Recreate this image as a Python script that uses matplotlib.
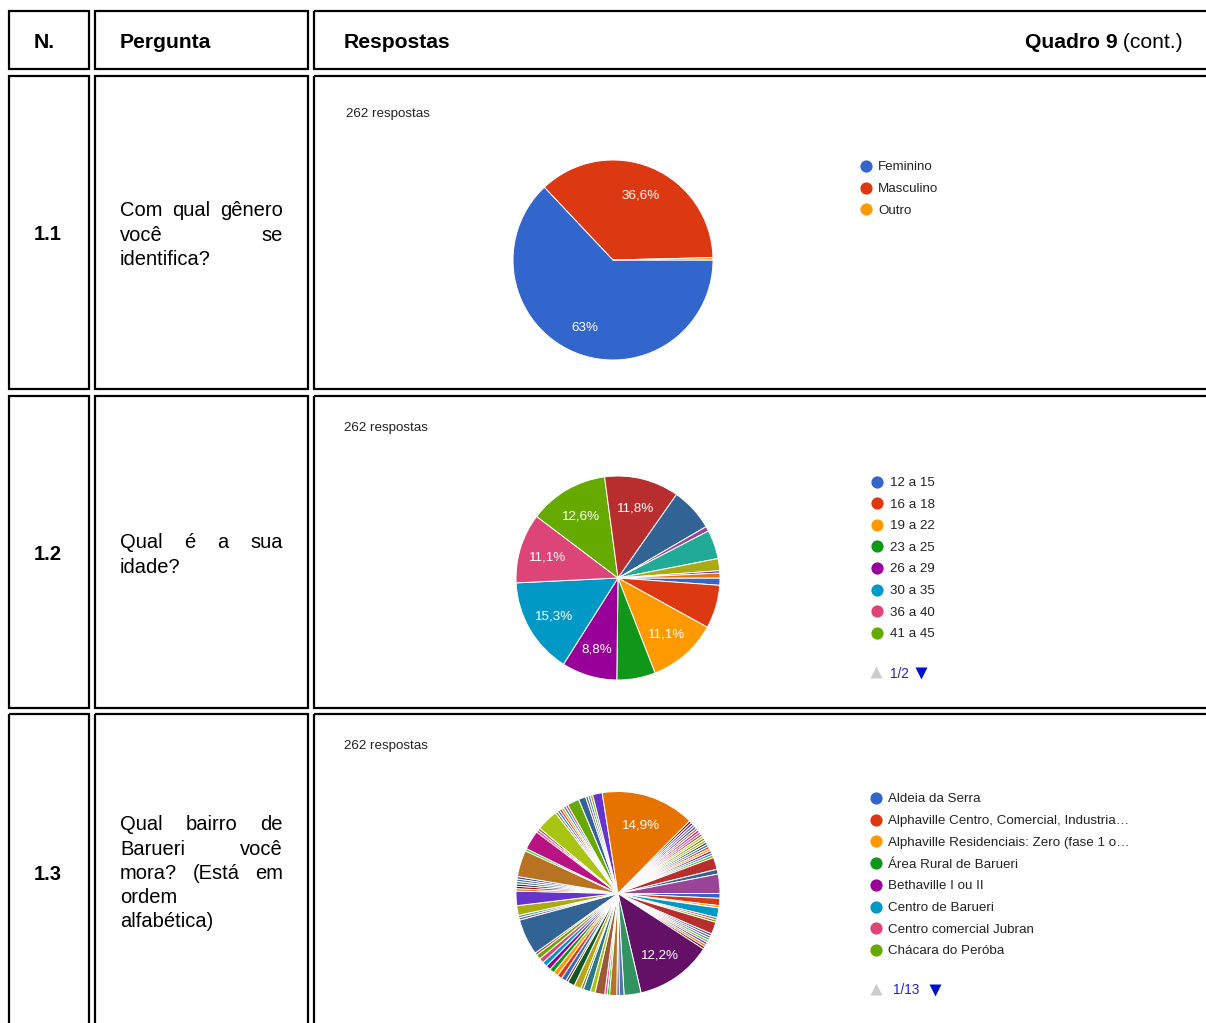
import matplotlib
matplotlib.use('Agg')
import matplotlib.pyplot as plt
from matplotlib.patches import Rectangle

plt.rcParams['font.family'] = ['Liberation Sans', 'DejaVu Sans']

# respostas por pergunta
total_respostas = 262

genero = ['Feminino', 'Masculino', 'Outro']
genero_n = [165, 96, 1]

idades = ['12 a 15', '16 a 18', '19 a 22', '23 a 25', '26 a 29', '30 a 35', '36 a 40', '41 a 45']
idade_n = [3, 18, 29, 16, 23, 40, 29, 33, 31, 18, 2, 12, 5, 1, 2]
idade_pagina = '1/2'

bairros = ['Aldeia da Serra', 'Alphaville Centro, Comercial, Industria…',
           'Alphaville Residenciais: Zero (fase 1 o…', 'Área Rural de Barueri',
           'Bethaville I ou II', 'Centro de Barueri', 'Centro comercial Jubran',
           'Chácara do Peróba']
bairro_n = ([2, 3, 1, 0, 0, 4, 1, 1, 5, 1, 1, 1, 1, 1, 1, 1]
            + [32]
            + [7, 2, 1, 3, 1, 0, 1, 4, 2, 3, 1, 3, 3, 1]
            + [2, 2, 2, 2, 2, 2, 2, 2, 1]
            + [15, 1, 1, 4, 6, 1, 1, 1, 1, 1, 1]
            + [11, 1, 8, 1, 1, 9, 0, 1, 0, 0, 0]
            + [1, 1, 1, 0, 0, 1, 1, 5, 0, 3, 1, 1, 1, 4]
            + [39]
            + [1, 1, 0, 1, 1, 1, 0, 1, 1, 1, 1, 0, 1, 1, 1, 0, 1, 1, 1, 0, 1, 1, 0, 1]
            + [5, 2, 8])
bairro_pagina = '1/13'

perguntas = [('1.1', [['Com', 'qual', 'gênero'], ['você', 'se'], ['identifica?']]),
             ('1.2', [['Qual', 'é', 'a', 'sua'], ['idade?']]),
             ('1.3', [['Qual', 'bairro', 'de'], ['Barueri', 'você'], ['mora?', '(Está', 'em'],
                      ['ordem'], ['alfabética)']])]

# google charts palette
paleta = ['#3366cc', '#dc3912', '#ff9900', '#109618', '#990099', '#0099c6', '#dd4477',
          '#66aa00', '#b82e2e', '#316395', '#994499', '#22aa99', '#aaaa11', '#6633cc',
          '#e67300', '#8b0707', '#651067', '#329262', '#5574a6', '#3b3eac', '#b77322',
          '#16d620', '#b91383', '#f4359e', '#9c5935', '#a9c413', '#2a778d', '#668d1c',
          '#bea413', '#0c5922', '#743411']

VA = 'center_baseline'

W, H = 1206, 1023
fig = plt.figure(figsize=(W / 100, H / 100), dpi=100)
ax = fig.add_axes([0, 0, 1, 1])
ax.set_xlim(0, W)
ax.set_ylim(H, 0)
ax.axis('off')
r = fig.canvas.get_renderer()

# table cells (each one its own box)
cols = [(9, 89), (95, 307.5), (314, 1215)]
rows = [(11, 69), (76, 389), (396, 707.5), (714, 1040)]
for y0, y1 in rows:
    for x0, x1 in cols:
        ax.add_patch(Rectangle((x0, y0), x1 - x0, y1 - y0, fill=False, ec='black', lw=1.6))

ax.text(34, 41, 'N.', fontsize=15.2, fontweight='bold', va=VA)
ax.text(120, 41, 'Pergunta', fontsize=15.2, fontweight='bold', va=VA)
ax.text(344, 41, 'Respostas', fontsize=15.2, fontweight='bold', va=VA)
t = ax.text(1183, 41, ' (cont.)', fontsize=15.2, ha='right', va=VA)
w = t.get_window_extent(r).width
ax.text(1183 - w, 41, 'Quadro 9', fontsize=15.2, fontweight='bold', ha='right', va=VA)


def justificado(linhas, y0, x0=120, x1=283, passo=24.2):
    for k, palavras in enumerate(linhas):
        y = y0 + k * passo
        txts = [ax.text(0, y, p, fontsize=14.5, va=VA) for p in palavras]
        if len(txts) == 1:
            txts[0].set_x(x0)
            continue
        larg = [tt.get_window_extent(r).width for tt in txts]
        gap = (x1 - x0 - sum(larg)) / (len(txts) - 1)
        x = x0
        for tt, lw in zip(txts, larg):
            tt.set_x(x)
            x += lw + gap


linhas_y = [209, 541, 823]
num_y = [233, 553, 873]
for (num, linhas), ly, ny in zip(perguntas, linhas_y, num_y):
    ax.text(34, ny, num, fontsize=14.5, fontweight='bold', va=VA)
    justificado(linhas, ly)


def pct(p):
    if p < 8:
        return ''
    s = f'{p:.1f}'
    if s.endswith('.0'):
        s = s[:-2]
    return s.replace('.', ',') + '%'


def pizza(cx, cy, raio, valores):
    pad = 1.04
    a = fig.add_axes([(cx - raio * pad) / W, 1 - (cy + raio * pad) / H,
                      2 * raio * pad / W, 2 * raio * pad / H])
    cores = [paleta[i % len(paleta)] for i in range(len(valores))]
    a.pie(valores, colors=cores, startangle=0, counterclock=False, radius=1,
          wedgeprops=dict(edgecolor='white', linewidth=0.7),
          autopct=pct, pctdistance=0.72,
          textprops=dict(color='white', fontsize=9.6, va=VA))
    a.set_xlim(-pad, pad)
    a.set_ylim(-pad, pad)
    a.axis('off')


def legenda(nomes, xd, xt, y0, passo=21.6):
    for i, nome in enumerate(nomes):
        y = y0 + i * passo
        ax.plot(xd, y, 'o', ms=8.8, color=paleta[i], mec='none')
        ax.text(xt, y, nome, fontsize=9.6, color='#222222', va=VA)


def paginas(txt, xu, xt, xd, y):
    ax.plot(xu, y, '^', ms=9, color='#cccccc', mec='none')
    ax.text(xt, y, txt, fontsize=9.8, color='#2222cc', va=VA)
    ax.plot(xd, y + 0.5, 'v', ms=9, color='#0011cc', mec='none')


resp = f'{total_respostas} respostas'
ax.text(346, 113, resp, fontsize=9.6, color='#212121', va=VA)
ax.text(344, 427, resp, fontsize=9.6, color='#212121', va=VA)
ax.text(344, 744, resp, fontsize=9.6, color='#212121', va=VA)

pizza(613, 260, 100, genero_n)
legenda(genero, 866, 878, 166, 21.5)

pizza(618, 578, 102, idade_n)
legenda(idades, 877, 890, 481.5)
paginas(idade_pagina, 876, 890, 921, 672)

pizza(618, 893.5, 102, bairro_n)
legenda(bairros, 876, 888, 798, 21.7)
paginas(bairro_pagina, 876, 893, 935, 989)

fig.savefig('out.png', dpi=100)
